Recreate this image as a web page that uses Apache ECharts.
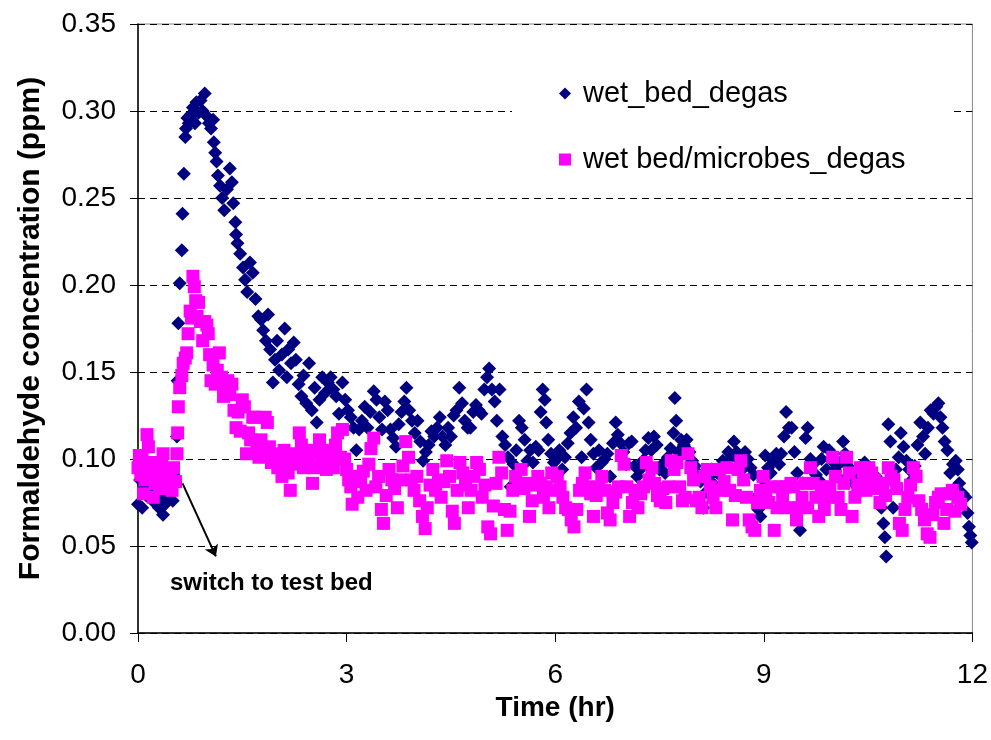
<!DOCTYPE html>
<html>
<head>
<meta charset="utf-8">
<title>Formaldehyde degas</title>
<script src="https://cdn.jsdelivr.net/npm/echarts@6/dist/echarts.min.js"></script>
<style>
  html, body { margin: 0; padding: 0; background: #fff; }
  #chart { width: 991px; height: 740px; }
</style>
</head>
<body>
<div id="chart"></div>
<script>
  // time (hr), concentration (ppm)
  var wetBedDegas = [
    [0.00, 0.074], [0.03, 0.088], [0.06, 0.072], [0.09, 0.083], [0.12, 0.079], [0.15, 0.092],
    [0.18, 0.085], [0.21, 0.076], [0.24, 0.081], [0.27, 0.087], [0.30, 0.072], [0.33, 0.079],
    [0.36, 0.068], [0.39, 0.074], [0.42, 0.082], [0.45, 0.077], [0.48, 0.085], [0.50, 0.076],
    [0.53, 0.090], [0.56, 0.113], [0.57, 0.145], [0.58, 0.178], [0.60, 0.201], [0.63, 0.220],
    [0.64, 0.241], [0.66, 0.264], [0.68, 0.285], [0.69, 0.290], [0.71, 0.296], [0.73, 0.293],
    [0.76, 0.298], [0.79, 0.302], [0.82, 0.293], [0.84, 0.305], [0.87, 0.299], [0.90, 0.306],
    [0.93, 0.300], [0.96, 0.310], [0.99, 0.297], [1.02, 0.293], [1.05, 0.290], [1.08, 0.295],
    [1.09, 0.282], [1.11, 0.276], [1.13, 0.271], [1.15, 0.263], [1.18, 0.257], [1.21, 0.250],
    [1.24, 0.243], [1.28, 0.255], [1.32, 0.267], [1.35, 0.259], [1.37, 0.247], [1.40, 0.236],
    [1.41, 0.229], [1.43, 0.224], [1.47, 0.218], [1.51, 0.210], [1.54, 0.203], [1.57, 0.196],
    [1.61, 0.213], [1.65, 0.207], [1.69, 0.192], [1.73, 0.182], [1.77, 0.180], [1.80, 0.174],
    [1.84, 0.168], [1.87, 0.183], [1.90, 0.163], [1.94, 0.144], [1.97, 0.157], [2.00, 0.168],
    [2.03, 0.151], [2.07, 0.160], [2.11, 0.175], [2.14, 0.147], [2.16, 0.163], [2.20, 0.155],
    [2.24, 0.167], [2.27, 0.157], [2.31, 0.143], [2.35, 0.136], [2.38, 0.148], [2.42, 0.132],
    [2.46, 0.155], [2.50, 0.128], [2.54, 0.141], [2.57, 0.121], [2.61, 0.134], [2.65, 0.147],
    [2.69, 0.138], [2.73, 0.144], [2.77, 0.147], [2.81, 0.140], [2.85, 0.136], [2.89, 0.126],
    [2.94, 0.144], [2.98, 0.134], [3.02, 0.128], [3.06, 0.124], [3.10, 0.118], [3.14, 0.105],
    [3.18, 0.117], [3.22, 0.122], [3.26, 0.130], [3.30, 0.118], [3.34, 0.127], [3.39, 0.139],
    [3.43, 0.134], [3.47, 0.124], [3.51, 0.117], [3.55, 0.133], [3.59, 0.128], [3.63, 0.117],
    [3.67, 0.112], [3.71, 0.107], [3.75, 0.120], [3.79, 0.127], [3.83, 0.133], [3.86, 0.141],
    [3.90, 0.128], [3.94, 0.122], [3.98, 0.115], [4.02, 0.122], [4.06, 0.110], [4.10, 0.099],
    [4.14, 0.104], [4.18, 0.108], [4.22, 0.116], [4.26, 0.113], [4.30, 0.118], [4.34, 0.124],
    [4.38, 0.113], [4.42, 0.108], [4.46, 0.118], [4.50, 0.113], [4.54, 0.125], [4.58, 0.128],
    [4.62, 0.141], [4.66, 0.132], [4.70, 0.122], [4.74, 0.118], [4.78, 0.118], [4.82, 0.127],
    [4.86, 0.131], [4.90, 0.128], [4.94, 0.126], [4.98, 0.140], [5.02, 0.147], [5.05, 0.152],
    [5.09, 0.140], [5.13, 0.133], [5.16, 0.122], [5.20, 0.140], [5.24, 0.113], [5.28, 0.108],
    [5.32, 0.101], [5.36, 0.084], [5.40, 0.097], [5.44, 0.105], [5.48, 0.122], [5.52, 0.118],
    [5.56, 0.111], [5.60, 0.099], [5.64, 0.105], [5.68, 0.098], [5.72, 0.107], [5.76, 0.105],
    [5.79, 0.127], [5.82, 0.140], [5.85, 0.134], [5.87, 0.121], [5.90, 0.111], [5.94, 0.103],
    [5.98, 0.098], [6.02, 0.100], [6.06, 0.105], [6.10, 0.094], [6.14, 0.101], [6.18, 0.109],
    [6.22, 0.115], [6.26, 0.124], [6.30, 0.118], [6.34, 0.133], [6.38, 0.101], [6.41, 0.129],
    [6.45, 0.140], [6.48, 0.121], [6.51, 0.111], [6.55, 0.103], [6.59, 0.095], [6.63, 0.105],
    [6.67, 0.098], [6.71, 0.100], [6.75, 0.103], [6.79, 0.090], [6.83, 0.109], [6.87, 0.121],
    [6.90, 0.114], [6.94, 0.109], [6.98, 0.104], [7.02, 0.097], [7.06, 0.109], [7.10, 0.110],
    [7.14, 0.096], [7.18, 0.090], [7.22, 0.094], [7.26, 0.099], [7.30, 0.105], [7.34, 0.112],
    [7.38, 0.105], [7.42, 0.113], [7.46, 0.108], [7.50, 0.094], [7.54, 0.097], [7.58, 0.092],
    [7.62, 0.101], [7.66, 0.106], [7.70, 0.115], [7.72, 0.135], [7.74, 0.122], [7.77, 0.104],
    [7.81, 0.111], [7.85, 0.108], [7.89, 0.111], [7.93, 0.104], [7.97, 0.099], [8.01, 0.096],
    [8.05, 0.092], [8.09, 0.087], [8.13, 0.072], [8.17, 0.081], [8.21, 0.090], [8.25, 0.094],
    [8.29, 0.085], [8.33, 0.092], [8.37, 0.094], [8.41, 0.099], [8.45, 0.095], [8.49, 0.104],
    [8.53, 0.101], [8.57, 0.110], [8.61, 0.104], [8.65, 0.099], [8.69, 0.094], [8.73, 0.104],
    [8.77, 0.100], [8.81, 0.095], [8.85, 0.091], [8.89, 0.078], [8.92, 0.071], [8.95, 0.067],
    [8.99, 0.088], [9.02, 0.102], [9.06, 0.095], [9.10, 0.092], [9.14, 0.099], [9.18, 0.103],
    [9.22, 0.097], [9.25, 0.103], [9.29, 0.113], [9.32, 0.127], [9.36, 0.118], [9.40, 0.118],
    [9.44, 0.104], [9.48, 0.092], [9.52, 0.059], [9.56, 0.086], [9.60, 0.112], [9.63, 0.118],
    [9.67, 0.100], [9.71, 0.097], [9.75, 0.091], [9.79, 0.088], [9.83, 0.100], [9.86, 0.107],
    [9.90, 0.094], [9.94, 0.105], [9.98, 0.099], [10.02, 0.094], [10.06, 0.090], [10.10, 0.098],
    [10.14, 0.110], [10.17, 0.103], [10.21, 0.096], [10.25, 0.090], [10.29, 0.086], [10.33, 0.092],
    [10.37, 0.089], [10.41, 0.095], [10.45, 0.098], [10.49, 0.091], [10.53, 0.088], [10.57, 0.084],
    [10.61, 0.090], [10.65, 0.086], [10.69, 0.072], [10.72, 0.063], [10.74, 0.055], [10.76, 0.044],
    [10.79, 0.120], [10.82, 0.110], [10.86, 0.072], [10.90, 0.094], [10.94, 0.101], [10.97, 0.115],
    [11.01, 0.107], [11.05, 0.099], [11.09, 0.094], [11.13, 0.088], [11.17, 0.096], [11.21, 0.108],
    [11.25, 0.121], [11.29, 0.113], [11.32, 0.103], [11.36, 0.118], [11.40, 0.128], [11.44, 0.126],
    [11.48, 0.130], [11.51, 0.132], [11.54, 0.124], [11.57, 0.118], [11.60, 0.110], [11.64, 0.105],
    [11.68, 0.092], [11.72, 0.097], [11.76, 0.099], [11.79, 0.094], [11.81, 0.086], [11.86, 0.080],
    [11.90, 0.078], [11.93, 0.069], [11.95, 0.061], [11.97, 0.056], [11.99, 0.052]
  ];

  var wetBedMicrobesDegas = [
    [0.00, 0.095], [0.02, 0.102], [0.04, 0.091], [0.06, 0.100], [0.08, 0.080], [0.10, 0.088],
    [0.13, 0.114], [0.15, 0.107], [0.17, 0.093], [0.20, 0.098], [0.22, 0.078], [0.25, 0.086],
    [0.28, 0.092], [0.31, 0.083], [0.34, 0.096], [0.36, 0.103], [0.38, 0.088], [0.41, 0.094],
    [0.44, 0.085], [0.47, 0.090], [0.49, 0.082], [0.51, 0.095], [0.54, 0.087], [0.56, 0.103],
    [0.57, 0.115], [0.58, 0.130], [0.60, 0.141], [0.63, 0.148], [0.65, 0.155], [0.68, 0.158],
    [0.70, 0.161], [0.72, 0.172], [0.75, 0.185], [0.77, 0.181], [0.79, 0.205], [0.81, 0.199],
    [0.83, 0.191], [0.85, 0.182], [0.87, 0.190], [0.90, 0.179], [0.93, 0.168], [0.96, 0.179],
    [0.99, 0.177], [1.01, 0.172], [1.03, 0.160], [1.05, 0.145], [1.08, 0.154], [1.11, 0.143],
    [1.14, 0.151], [1.17, 0.161], [1.20, 0.147], [1.23, 0.136], [1.26, 0.140], [1.29, 0.145],
    [1.32, 0.137], [1.35, 0.143], [1.38, 0.128], [1.41, 0.118], [1.44, 0.127], [1.47, 0.116],
    [1.50, 0.134], [1.53, 0.130], [1.56, 0.103], [1.59, 0.115], [1.62, 0.111], [1.65, 0.124],
    [1.68, 0.124], [1.71, 0.108], [1.74, 0.101], [1.77, 0.111], [1.80, 0.103], [1.83, 0.124],
    [1.86, 0.121], [1.89, 0.107], [1.92, 0.098], [1.95, 0.103], [1.98, 0.100], [2.01, 0.095],
    [2.04, 0.100], [2.07, 0.090], [2.10, 0.105], [2.13, 0.098], [2.16, 0.092], [2.19, 0.082],
    [2.22, 0.097], [2.25, 0.103], [2.28, 0.100], [2.32, 0.115], [2.35, 0.108], [2.38, 0.095],
    [2.42, 0.101], [2.45, 0.098], [2.48, 0.105], [2.51, 0.086], [2.54, 0.095], [2.57, 0.104],
    [2.61, 0.111], [2.64, 0.099], [2.67, 0.102], [2.71, 0.094], [2.75, 0.105], [2.78, 0.098],
    [2.81, 0.095], [2.84, 0.108], [2.87, 0.115], [2.91, 0.101], [2.94, 0.117], [2.97, 0.100],
    [3.00, 0.094], [3.03, 0.088], [3.06, 0.084], [3.08, 0.074], [3.12, 0.090], [3.16, 0.078],
    [3.20, 0.087], [3.24, 0.093], [3.28, 0.082], [3.32, 0.097], [3.35, 0.106], [3.39, 0.112],
    [3.42, 0.084], [3.46, 0.090], [3.50, 0.071], [3.53, 0.063], [3.57, 0.079], [3.61, 0.094],
    [3.65, 0.088], [3.69, 0.083], [3.73, 0.072], [3.77, 0.088], [3.81, 0.096], [3.85, 0.110],
    [3.89, 0.101], [3.93, 0.088], [3.97, 0.082], [4.01, 0.090], [4.05, 0.076], [4.09, 0.067],
    [4.13, 0.060], [4.16, 0.072], [4.20, 0.085], [4.24, 0.094], [4.28, 0.082], [4.32, 0.088],
    [4.36, 0.078], [4.40, 0.087], [4.44, 0.099], [4.48, 0.090], [4.52, 0.070], [4.55, 0.063],
    [4.59, 0.082], [4.63, 0.098], [4.67, 0.092], [4.71, 0.085], [4.75, 0.072], [4.79, 0.082],
    [4.83, 0.090], [4.87, 0.098], [4.91, 0.094], [4.95, 0.078], [4.99, 0.085], [5.03, 0.061],
    [5.07, 0.057], [5.11, 0.073], [5.15, 0.086], [5.19, 0.101], [5.23, 0.092], [5.27, 0.071],
    [5.31, 0.059], [5.35, 0.070], [5.39, 0.082], [5.43, 0.090], [5.47, 0.086], [5.51, 0.094],
    [5.55, 0.083], [5.59, 0.086], [5.63, 0.067], [5.67, 0.076], [5.71, 0.085], [5.75, 0.090],
    [5.79, 0.086], [5.83, 0.078], [5.87, 0.084], [5.91, 0.072], [5.95, 0.092], [5.99, 0.082],
    [6.03, 0.090], [6.07, 0.084], [6.11, 0.078], [6.15, 0.072], [6.19, 0.071], [6.23, 0.065],
    [6.27, 0.061], [6.31, 0.071], [6.35, 0.082], [6.39, 0.086], [6.43, 0.092], [6.47, 0.084],
    [6.51, 0.080], [6.55, 0.067], [6.59, 0.079], [6.63, 0.084], [6.67, 0.090], [6.71, 0.082],
    [6.75, 0.069], [6.79, 0.065], [6.83, 0.075], [6.87, 0.081], [6.91, 0.084], [6.95, 0.102],
    [6.99, 0.097], [7.03, 0.084], [7.07, 0.067], [7.11, 0.075], [7.15, 0.082], [7.19, 0.072],
    [7.23, 0.080], [7.27, 0.084], [7.31, 0.098], [7.35, 0.088], [7.39, 0.095], [7.43, 0.086],
    [7.47, 0.079], [7.51, 0.076], [7.55, 0.083], [7.59, 0.075], [7.63, 0.084], [7.67, 0.099],
    [7.71, 0.094], [7.75, 0.098], [7.79, 0.084], [7.83, 0.076], [7.87, 0.078], [7.91, 0.103],
    [7.95, 0.095], [7.99, 0.088], [8.03, 0.076], [8.07, 0.078], [8.11, 0.072], [8.15, 0.090],
    [8.19, 0.094], [8.23, 0.084], [8.27, 0.078], [8.31, 0.072], [8.35, 0.094], [8.39, 0.082],
    [8.43, 0.087], [8.47, 0.095], [8.51, 0.082], [8.55, 0.065], [8.59, 0.079], [8.63, 0.094],
    [8.67, 0.099], [8.71, 0.088], [8.75, 0.078], [8.79, 0.065], [8.83, 0.061], [8.87, 0.059],
    [8.91, 0.075], [8.95, 0.082], [8.99, 0.090], [9.03, 0.078], [9.07, 0.075], [9.11, 0.084],
    [9.15, 0.059], [9.19, 0.072], [9.23, 0.084], [9.27, 0.079], [9.31, 0.084], [9.35, 0.072],
    [9.39, 0.086], [9.43, 0.084], [9.47, 0.065], [9.51, 0.072], [9.55, 0.078], [9.59, 0.086],
    [9.63, 0.072], [9.67, 0.095], [9.71, 0.086], [9.75, 0.078], [9.79, 0.067], [9.83, 0.084],
    [9.87, 0.071], [9.91, 0.078], [9.95, 0.084], [9.99, 0.101], [10.03, 0.090], [10.07, 0.078],
    [10.11, 0.071], [10.15, 0.086], [10.19, 0.101], [10.23, 0.092], [10.27, 0.067], [10.31, 0.078],
    [10.35, 0.085], [10.39, 0.095], [10.43, 0.088], [10.47, 0.082], [10.51, 0.095], [10.55, 0.092],
    [10.59, 0.088], [10.63, 0.083], [10.67, 0.075], [10.71, 0.086], [10.75, 0.079], [10.79, 0.095],
    [10.83, 0.090], [10.87, 0.088], [10.91, 0.083], [10.95, 0.063], [10.99, 0.059], [11.03, 0.071],
    [11.07, 0.078], [11.11, 0.085], [11.15, 0.095], [11.19, 0.090], [11.23, 0.076], [11.27, 0.071],
    [11.31, 0.065], [11.35, 0.057], [11.39, 0.055], [11.43, 0.068], [11.47, 0.075], [11.51, 0.078],
    [11.55, 0.080], [11.59, 0.063], [11.63, 0.071], [11.67, 0.080], [11.71, 0.082], [11.75, 0.070],
    [11.79, 0.078], [11.83, 0.074]
  ];

  var xTicks = [0, 3, 6, 9, 12];
  var yTicks = [0, 0.05, 0.10, 0.15, 0.20, 0.25, 0.30, 0.35];
  // arrow for the "switch to test bed" note: [time, ppm] start and end
  var switchArrow = [[0.64, 0.086], [1.12, 0.044]];

  var fontName = '"Liberation Sans", Arial, sans-serif';

  var chart = echarts.init(document.getElementById('chart'));

  var options = {
    backgroundColor: '#fff',
    animation: false,
    grid: {
      left: 138,
      right: 16,
      top: 24,
      bottom: 107,
      show: true,
      borderColor: '#888',
      borderWidth: 1
    },
    legend: {
      orient: 'vertical',
      left: 512,
      top: 59,
      padding: [20, 48, 20, 47],
      backgroundColor: '#fff',
      itemWidth: 12,
      itemHeight: 12,
      itemGap: 37,
      textStyle: {
        fontFamily: fontName,
        fontSize: 29,
        color: '#000',
        lineHeight: 26,
        padding: [0, 0, 0, 7]
      },
      data: [
        { name: 'wet_bed_degas', icon: 'diamond' },
        { name: 'wet bed/microbes_degas', icon: 'rect' }
      ]
    },
    xAxis: {
      type: 'value',
      min: xTicks[0],
      max: xTicks[xTicks.length - 1],
      interval: 3,
      name: 'Time (hr)',
      nameLocation: 'middle',
      nameGap: 52,
      nameTextStyle: {
        fontFamily: fontName,
        fontSize: 28,
        fontWeight: 'bold',
        color: '#000'
      },
      axisLine: { show: true, lineStyle: { color: '#000', width: 1.5 } },
      axisTick: { show: true, length: 9, lineStyle: { color: '#000' } },
      axisLabel: {
        margin: 28,
        fontFamily: fontName,
        fontSize: 28,
        color: '#000'
      },
      splitLine: { show: false }
    },
    yAxis: {
      type: 'value',
      min: yTicks[0],
      max: yTicks[yTicks.length - 1],
      interval: 0.05,
      name: 'Formaldehyde concentration (ppm)',
      nameLocation: 'middle',
      nameGap: 92,
      nameTextStyle: {
        fontFamily: fontName,
        fontSize: 30,
        fontWeight: 'bold',
        color: '#000'
      },
      axisLine: { show: true, lineStyle: { color: '#000', width: 1.5 } },
      axisTick: { show: true, length: 8, lineStyle: { color: '#000' } },
      axisLabel: {
        margin: 22,
        fontFamily: fontName,
        fontSize: 28,
        color: '#000',
        formatter: function (v) { return v.toFixed(2); }
      },
      splitLine: {
        show: true,
        lineStyle: { color: '#000', width: 1, type: [7, 5] }
      }
    },
    series: [
      {
        name: 'wet_bed_degas',
        type: 'scatter',
        symbol: 'diamond',
        symbolSize: 14,
        itemStyle: { color: '#000080', opacity: 1 },
        data: wetBedDegas
      },
      {
        name: 'wet bed/microbes_degas',
        type: 'scatter',
        symbol: 'rect',
        symbolSize: 13,
        itemStyle: { color: '#ff00ff', opacity: 1 },
        data: wetBedMicrobesDegas,
        markLine: {
          silent: true,
          symbol: ['none', 'arrow'],
          symbolSize: 11,
          label: { show: false },
          lineStyle: { color: '#000', width: 2, type: 'solid' },
          data: [[
            { coord: switchArrow[0] },
            { coord: switchArrow[1] }
          ]]
        }
      }
    ],
    graphic: [
      {
        type: 'text',
        left: 170,
        top: 571,
        style: {
          text: 'switch to test bed',
          font: 'bold 24px ' + fontName,
          fill: '#000'
        }
      }
    ]
  };

  chart.setOption(options);
</script>
</body>
</html>
